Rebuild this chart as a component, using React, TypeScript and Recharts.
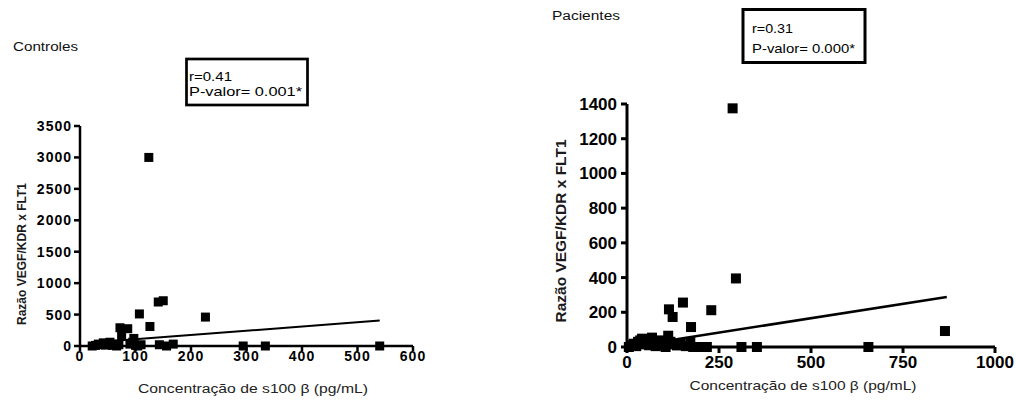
import React from "react";
import { ScatterChart, Scatter, XAxis, YAxis } from "recharts";

// Controles: s100β (pg/mL) vs razão VEGF/KDR x FLT1
const controlS100 = [22, 28, 33, 38, 42, 46, 50, 54, 58, 62, 66, 70, 72, 75, 86, 90, 95, 97, 100, 104, 107, 110, 124, 126, 141, 143, 150, 156, 168, 226, 294, 334, 540];
const controlRatio = [0, 10, 30, 20, 50, 15, 40, 60, 10, 30, 0, 20, 290, 160, 275, 30, 60, 120, 10, 0, 510, 20, 3000, 310, 700, 20, 720, 0, 30, 460, 0, 0, 0];
const controlFitX = [22, 540];
const controlFitY = [57, 404];

// Pacientes
const patientS100 = [5, 12, 18, 25, 30, 36, 41, 45, 50, 55, 60, 68, 72, 78, 85, 90, 95, 100, 105, 112, 114, 118, 124, 130, 136, 145, 152, 160, 172, 174, 180, 190, 199, 208, 217, 229, 287, 296, 311, 353, 656, 864];
const patientRatio = [0, 10, 19, 5, 30, 38, 48, 15, 25, 40, 10, 54, 30, 5, 20, 38, 10, 25, 0, 65, 217, 30, 173, 15, 9, 19, 256, 5, 29, 115, 0, 0, 0, 0, 0, 212, 1375, 395, 0, 0, 0, 92];
const patientFitX = [5, 869];
const patientFitY = [2, 288];

const controlXTicks = [0, 100, 200, 300, 400, 500, 600];
const controlYTicks = [0, 500, 1000, 1500, 2000, 2500, 3000, 3500];
const patientXTicks = [0, 250, 500, 750, 1000];
const patientYTicks = [0, 200, 400, 600, 800, 1000, 1200, 1400];

const FONT = "Arial, 'Liberation Sans', sans-serif";

const zip = (xs: number[], ys: number[]) => xs.map((x, i) => ({ x, y: ys[i] }));

const Square = (size: number) => (props: any) => {
    const { cx, cy } = props;
    if (cx == null || cy == null) return <g />;
    return <rect x={cx - size / 2} y={cy - size / 2} width={size} height={size} fill="#000" />;
};

const NoShape = () => <g />;

const App: React.FC = () => {
    const controls = zip(controlS100, controlRatio);
    const controlFit = zip(controlFitX, controlFitY);
    const patients = zip(patientS100, patientRatio);
    const patientFit = zip(patientFitX, patientFitY);

    return (
        <div style={{ position: "absolute", left: 0, top: 0, width: 1016, height: 403, background: "#fff", fontFamily: FONT }}>
            <div style={{ position: "absolute", left: 0, top: 0 }}>
                <ScatterChart width={440} height={403} margin={{ top: 126, right: 27, bottom: 0, left: 0 }}>
                    <XAxis
                        type="number"
                        dataKey="x"
                        domain={[0, 600]}
                        ticks={controlXTicks}
                        interval={0}
                        height={57}
                        tickSize={5}
                        tickMargin={0}
                        axisLine={{ stroke: "#000", strokeWidth: 2.5 }}
                        tickLine={{ stroke: "#000", strokeWidth: 2.5 }}
                        tick={{ fontSize: 14, fontWeight: 700, fill: "#000", fontFamily: FONT, letterSpacing: 1 }}
                    />
                    <YAxis
                        type="number"
                        dataKey="y"
                        domain={[0, 3500]}
                        ticks={controlYTicks}
                        interval={0}
                        width={80}
                        tickSize={6}
                        tickMargin={2}
                        axisLine={{ stroke: "#000", strokeWidth: 2.5 }}
                        tickLine={{ stroke: "#000", strokeWidth: 2.5 }}
                        tick={{ fontSize: 14, fontWeight: 700, fill: "#000", fontFamily: FONT, letterSpacing: 1 }}
                    />
                    <Scatter data={controlFit} line={{ stroke: "#000", strokeWidth: 2 }} shape={NoShape} isAnimationActive={false} />
                    <Scatter data={controls} shape={Square(9)} isAnimationActive={false} />
                </ScatterChart>
            </div>
            <div style={{ position: "absolute", left: 520, top: 0 }}>
                <ScatterChart width={496} height={403} margin={{ top: 104, right: 21, bottom: 0, left: 0 }}>
                    <XAxis
                        type="number"
                        dataKey="x"
                        domain={[0, 1000]}
                        ticks={patientXTicks}
                        interval={0}
                        height={56}
                        tickSize={6}
                        tickMargin={3}
                        axisLine={{ stroke: "#000", strokeWidth: 3 }}
                        tickLine={{ stroke: "#000", strokeWidth: 3 }}
                        tick={{ fontSize: 17, fontWeight: 700, fill: "#000", fontFamily: FONT }}
                    />
                    <YAxis
                        type="number"
                        dataKey="y"
                        domain={[0, 1400]}
                        ticks={patientYTicks}
                        interval={0}
                        width={107}
                        tickSize={6}
                        tickMargin={4}
                        axisLine={{ stroke: "#000", strokeWidth: 3 }}
                        tickLine={{ stroke: "#000", strokeWidth: 3 }}
                        tick={{ fontSize: 17, fontWeight: 700, fill: "#000", fontFamily: FONT }}
                    />
                    <Scatter data={patientFit} line={{ stroke: "#000", strokeWidth: 2.5 }} shape={NoShape} isAnimationActive={false} />
                    <Scatter data={patients} shape={Square(10)} isAnimationActive={false} />
                </ScatterChart>
            </div>

            {/* titles, stats boxes and axis titles */}
            <svg width={1016} height={403} style={{ position: "absolute", left: 0, top: 0, pointerEvents: "none" }} fontFamily={FONT}>
                <text x={13} y={51} fontSize={12} fill="#111" textLength={65} lengthAdjust="spacingAndGlyphs">Controles</text>
                <text x={552} y={20} fontSize={12} fill="#111" textLength={68} lengthAdjust="spacingAndGlyphs">Pacientes</text>

                <rect x={186.5} y={59} width={121} height={46} fill="#fff" stroke="#000" strokeWidth={2.7} />
                <text x={189} y={81} fontSize={13} fill="#000" textLength={43} lengthAdjust="spacingAndGlyphs">r=0.41</text>
                <text x={189} y={96} fontSize={13} fill="#000" textLength={113} lengthAdjust="spacingAndGlyphs">P-valor= 0.001*</text>

                <rect x={743} y={9.5} width={122} height={53} fill="#fff" stroke="#000" strokeWidth={3} />
                <text x={752} y={33} fontSize={13} fill="#000" textLength={41} lengthAdjust="spacingAndGlyphs">r=0.31</text>
                <text x={752} y={53} fontSize={13} fill="#000" textLength={103} lengthAdjust="spacingAndGlyphs">P-valor= 0.000*</text>

                <text transform="translate(26,254) rotate(-90)" textAnchor="middle" fontSize={12} fontWeight={700} fill="#1a1a1a" textLength={142} lengthAdjust="spacingAndGlyphs">Razão VEGF/KDR x FLT1</text>
                <text transform="translate(566,231) rotate(-90)" textAnchor="middle" fontSize={15} fontWeight={700} fill="#1a1a1a" textLength={183} lengthAdjust="spacingAndGlyphs">Razão VEGF/KDR x FLT1</text>

                <text x={253} y={393} textAnchor="middle" fontSize={12} fill="#222" textLength={230} lengthAdjust="spacingAndGlyphs">Concentração de s100 β (pg/mL)</text>
                <text x={803} y={390} textAnchor="middle" fontSize={13} fill="#222" textLength={227} lengthAdjust="spacingAndGlyphs">Concentração de s100 β (pg/mL)</text>
            </svg>
        </div>
    );
};

export default App;
